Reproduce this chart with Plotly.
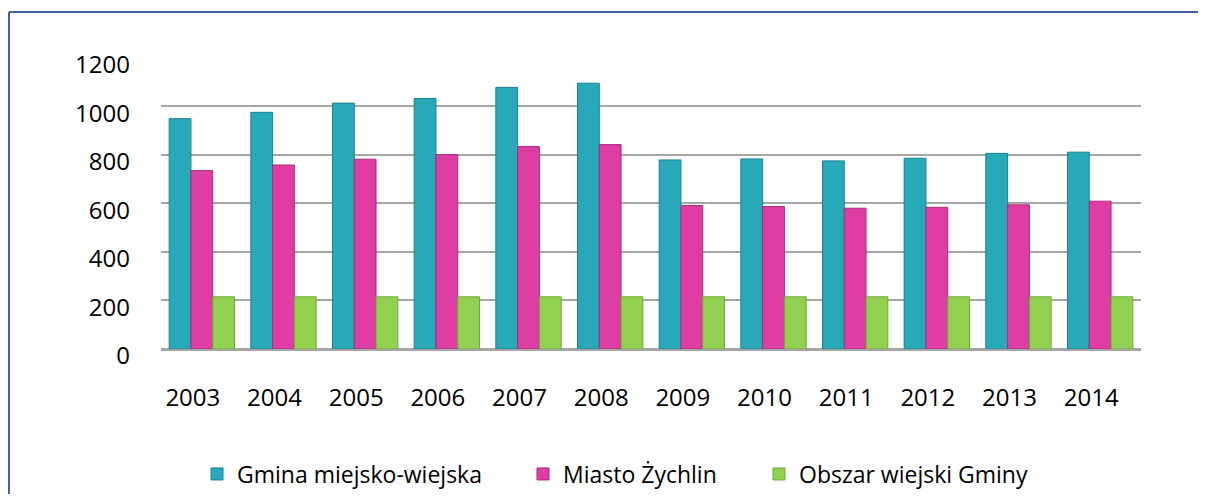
import plotly.graph_objects as go

years = ["2003", "2004", "2005", "2006", "2007", "2008", "2009", "2010", "2011", "2012", "2013", "2014"]
gmina = [949, 975, 1013, 1032, 1078, 1095, 779, 783, 775, 786, 806, 811]
miasto = [735, 758, 782, 801, 834, 842, 591, 587, 580, 584, 594, 609]
obszar = [215, 215, 215, 215, 215, 215, 215, 215, 215, 215, 215, 215]
y_ticks = [0, 200, 400, 600, 800, 1000, 1200]

names = ["Gmina miejsko-wiejska", "Miasto Żychlin", "Obszar wiejski Gminy"]
colors = ["#27A9B9", "#DE3DA3", "#92D050"]
edges = ["#1C8190", "#A82C7B", "#6FA83A"]
series = [gmina, miasto, obszar]
legends = ["legend", "legend2", "legend3"]

# page body has an 8px margin, so the figure is laid out from (8, 8)
W, H = 1191, 486
L, R, T, B = 153, 58, 49, 145
pw, ph = W - L - R, H - T - B

fig = go.Figure()
for name, vals, c, e, lg in zip(names, series, colors, edges, legends):
    fig.add_trace(go.Bar(
        x=years, y=vals, name=name, legend=lg, showlegend=True,
        marker=dict(color=c, line=dict(color=e, width=1)),
    ))

font = "Open Sans, Liberation Sans, sans-serif"
leg_common = dict(orientation="h", xref="container", yref="container",
                  yanchor="middle", y=1 - 466 / H, xanchor="left",
                  font=dict(family=font, size=23, color="#000000"),
                  bgcolor="rgba(0,0,0,0)", itemclick=False, visible=True)

frame_x0 = (1 - L) / pw
frame_x1 = (W - 1 - L) / pw
frame_y_top = (H - B - 4) / ph
frame_y_bot = (H - B - (H + 40)) / ph
border = dict(color="#3F64A6", width=2)

fig.update_layout(
    width=W, height=H, showlegend=True,
    margin=dict(l=L, r=R, t=T, b=B, autoexpand=False),
    paper_bgcolor="#FFFFFF", plot_bgcolor="#FFFFFF",
    barmode="group", bargap=0.2, bargroupgap=0,
    font=dict(family=font, size=24, color="#000000"),
    legend=dict(**leg_common, x=189 / W),
    legend2=dict(**leg_common, x=515 / W),
    legend3=dict(**leg_common, x=751 / W),
    xaxis=dict(showgrid=False, showline=True, linecolor="#A6A6A6", linewidth=2,
               ticks="", ticklabelstandoff=26, ticklabelshift=-9,
               tickfont=dict(family=font, size=24, color="#000000")),
    yaxis=dict(range=[0, 1203], tickvals=y_ticks, showgrid=True,
               gridcolor="#A6A6A6", gridwidth=2, zeroline=True,
               zerolinecolor="#A6A6A6", zerolinewidth=2, showline=False,
               ticks="", ticklabelstandoff=30, ticklabelshift=7,
               tickfont=dict(family=font, size=24, color="#000000")),
    shapes=[
        dict(type="line", xref="paper", yref="paper",
             x0=frame_x0, x1=frame_x0, y0=frame_y_bot, y1=frame_y_top, line=border),
        dict(type="line", xref="paper", yref="paper",
             x0=frame_x0, x1=frame_x1, y0=frame_y_top, y1=frame_y_top, line=border),
    ],
)

fig.write_html("out.html")
